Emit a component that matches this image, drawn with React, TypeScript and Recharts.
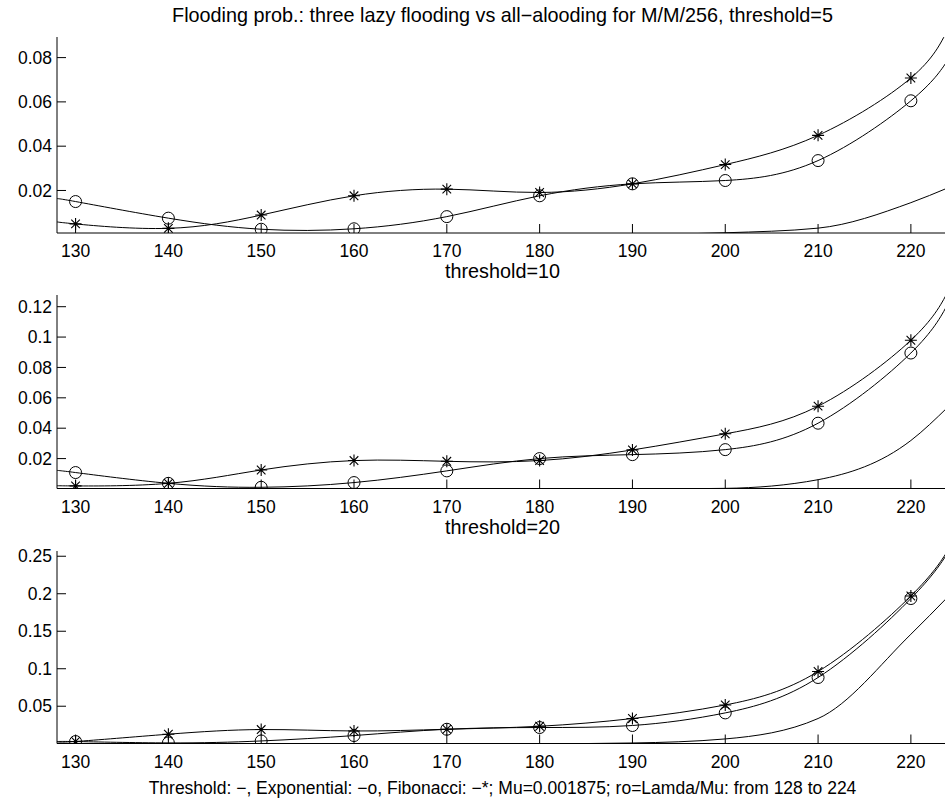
import React from 'react';
import { LineChart, Line, XAxis, YAxis } from 'recharts';

// ---------- data ----------
const xValues = [128, 130, 140, 150, 160, 170, 180, 190, 200, 210, 220, 224];
const markerXs = [130, 140, 150, 160, 170, 180, 190, 200, 210, 220];
const xTicks = [130, 140, 150, 160, 170, 180, 190, 200, 210, 220];

// threshold = 5
const p1Threshold = [0, 0, 0, 0, 0, 0, 0, 0.0001, 0.0009, 0.003, 0.0145, 0.0212];
const p1Exponential = [0.0162, 0.015, 0.0075, 0.0025, 0.0027, 0.0082, 0.0176, 0.023, 0.0245, 0.0335, 0.0605, 0.079];
const p1Fibonacci = [0.0059, 0.0049, 0.0029, 0.0089, 0.0176, 0.0206, 0.0191, 0.023, 0.0317, 0.0449, 0.0708, 0.093];
const p1YTicks = [0.02, 0.04, 0.06, 0.08];
const p1YDomain = [0.0008, 0.0893];

// threshold = 10
const p2Threshold = [0, 0, 0, 0, 0, 0, 0, 0, 0.0004, 0.0061, 0.0319, 0.054];
const p2Exponential = [0.0121, 0.0108, 0.0037, 0.0011, 0.0042, 0.0119, 0.02, 0.0226, 0.0259, 0.0433, 0.0895, 0.122];
const p2Fibonacci = [0.0022, 0.002, 0.0037, 0.0125, 0.0187, 0.0182, 0.0187, 0.0257, 0.0363, 0.0545, 0.0979, 0.13];
const p2YTicks = [0.02, 0.04, 0.06, 0.08, 0.1, 0.12];
const p2YDomain = [0.0003, 0.1277];

// threshold = 20
const p3Threshold = [0, 0, 0, 0, 0, 0, 0, 0.001, 0.0064, 0.0336, 0.146, 0.196];
const p3Exponential = [0.0025, 0.0029, 0.0011, 0.0037, 0.0109, 0.0193, 0.0216, 0.0243, 0.0411, 0.0883, 0.1936, 0.255];
const p3Fibonacci = [0.0035, 0.003, 0.0127, 0.0189, 0.017, 0.0193, 0.0233, 0.0336, 0.0517, 0.0963, 0.197, 0.258];
const p3YTicks = [0.05, 0.1, 0.15, 0.2, 0.25];
const p3YDomain = [0.0003, 0.257];

const mainTitle = 'Flooding prob.: three lazy flooding vs all\u2212alooding for M/M/256, threshold=5';
const subTitle2 = 'threshold=10';
const subTitle3 = 'threshold=20';
const bottomLabel = 'Threshold: \u2212, Exponential: \u2212o, Fibonacci: \u2212*; Mu=0.001875; ro=Lamda/Mu: from 128 to 224';

// ---------- helpers ----------
const FONT = '"Liberation Sans", Arial, Helvetica, sans-serif';
const FONT_SIZE = 17.5;
const TITLE_SIZE = 19.8;
const markerSet = new Set(markerXs);

const buildData = (thr: number[], exp: number[], fib: number[]) =>
  xValues.map((x, i) => ({ x, thr: thr[i], exp: exp[i], fib: fib[i] }));

const CircleDot = (props: any) => {
  const { cx, cy, payload, index } = props;
  if (!payload || !markerSet.has(payload.x) || cx == null || cy == null) return <g key={`c${index}`} />;
  return <circle key={`c${index}`} cx={cx} cy={cy} r={6} fill="none" stroke="#000" strokeWidth={1} />;
};

const StarDot = (props: any) => {
  const { cx, cy, payload, index } = props;
  if (!payload || !markerSet.has(payload.x) || cx == null || cy == null) return <g key={`s${index}`} />;
  const a = 6;
  const b = 4.3;
  const d = `M${cx - a},${cy}H${cx + a}M${cx},${cy - a}V${cy + a}M${cx - b},${cy - b}L${cx + b},${cy + b}M${cx - b},${cy + b}L${cx + b},${cy - b}`;
  return <path key={`s${index}`} d={d} fill="none" stroke="#000" strokeWidth={1.1} />;
};

const CHART_W = 953;
const TOP_M = 5;

type PanelProps = {
  top: number;
  plotH: number;
  axisH: number;
  data: any[];
  yTicks: number[];
  yDomain: number[];
  xLabel?: string;
};

const Panel = ({ top, plotH, axisH, data, yTicks, yDomain, xLabel }: PanelProps) => {
  const tickStyle = { fill: '#000', fontSize: FONT_SIZE, fontFamily: FONT };
  return (
    <div style={{ position: 'absolute', left: 0, top: top - TOP_M }}>
      <LineChart
        width={CHART_W}
        height={TOP_M + plotH + axisH}
        data={data}
        margin={{ top: TOP_M, right: 5, bottom: 0, left: 0 }}
      >
        <XAxis
          xAxisId="b"
          dataKey="x"
          type="number"
          domain={[128, 224]}
          ticks={xTicks}
          allowDataOverflow
          interval={0}
          height={axisH}
          tickSize={-9}
          tickMargin={21}
          tick={tickStyle}
          stroke="#000"
          axisLine={{ stroke: '#000', strokeWidth: 1 }}
          tickLine={{ stroke: '#000' }}
          label={
            xLabel
              ? { value: xLabel, position: 'insideBottom', offset: 10, fill: '#000', fontSize: FONT_SIZE, fontFamily: FONT }
              : undefined
          }
        />
        <XAxis
          xAxisId="t"
          orientation="top"
          type="number"
          domain={[128, 224]}
          ticks={xTicks}
          allowDataOverflow
          interval={0}
          height={0}
          tickSize={-9}
          tick={false}
          axisLine={{ stroke: '#000', strokeWidth: 1 }}
          tickLine={{ stroke: '#000' }}
        />
        <YAxis
          yAxisId="l"
          type="number"
          domain={yDomain}
          ticks={yTicks}
          allowDataOverflow
          interval={0}
          width={57}
          tickSize={-9}
          tickMargin={14}
          tick={tickStyle}
          axisLine={{ stroke: '#000', strokeWidth: 1 }}
          tickLine={{ stroke: '#000' }}
        />
        <YAxis
          yAxisId="r"
          orientation="right"
          type="number"
          domain={yDomain}
          ticks={yTicks}
          allowDataOverflow
          interval={0}
          width={0}
          tickSize={-9}
          tick={false}
          axisLine={{ stroke: '#000', strokeWidth: 1 }}
          tickLine={{ stroke: '#000' }}
        />
        <Line
          xAxisId="b"
          yAxisId="l"
          dataKey="thr"
          type="monotone"
          stroke="#000"
          strokeWidth={1}
          dot={false}
          activeDot={false}
          isAnimationActive={false}
        />
        <Line
          xAxisId="b"
          yAxisId="l"
          dataKey="exp"
          type="natural"
          stroke="#000"
          strokeWidth={1}
          dot={CircleDot}
          activeDot={false}
          isAnimationActive={false}
        />
        <Line
          xAxisId="b"
          yAxisId="l"
          dataKey="fib"
          type="natural"
          stroke="#000"
          strokeWidth={1}
          dot={StarDot}
          activeDot={false}
          isAnimationActive={false}
        />
      </LineChart>
    </div>
  );
};

const titleStyle = (top: number): React.CSSProperties => ({
  position: 'absolute',
  left: 57,
  width: 891,
  top,
  height: 20,
  lineHeight: '20px',
  textAlign: 'center',
  fontFamily: FONT,
  fontSize: TITLE_SIZE,
  color: '#000',
  whiteSpace: 'nowrap',
});

export default function App() {
  const d1 = buildData(p1Threshold, p1Exponential, p1Fibonacci);
  const d2 = buildData(p2Threshold, p2Exponential, p2Fibonacci);
  const d3 = buildData(p3Threshold, p3Exponential, p3Fibonacci);
  return (
    <div
      style={{
        position: 'absolute',
        left: 0,
        top: 0,
        width: 945,
        height: 802,
        overflow: 'hidden',
        background: '#fff',
      }}
    >
      <div style={titleStyle(5)}>{mainTitle}</div>
      <Panel top={37} plotH={196} axisH={30} data={d1} yTicks={p1YTicks} yDomain={p1YDomain} />
      <div style={titleStyle(261)}>{subTitle2}</div>
      <Panel top={295} plotH={193.5} axisH={30} data={d2} yTicks={p2YTicks} yDomain={p2YDomain} />
      <div style={titleStyle(517)}>{subTitle3}</div>
      <Panel top={551} plotH={192.5} axisH={60} data={d3} yTicks={p3YTicks} yDomain={p3YDomain} xLabel={bottomLabel} />
    </div>
  );
}
